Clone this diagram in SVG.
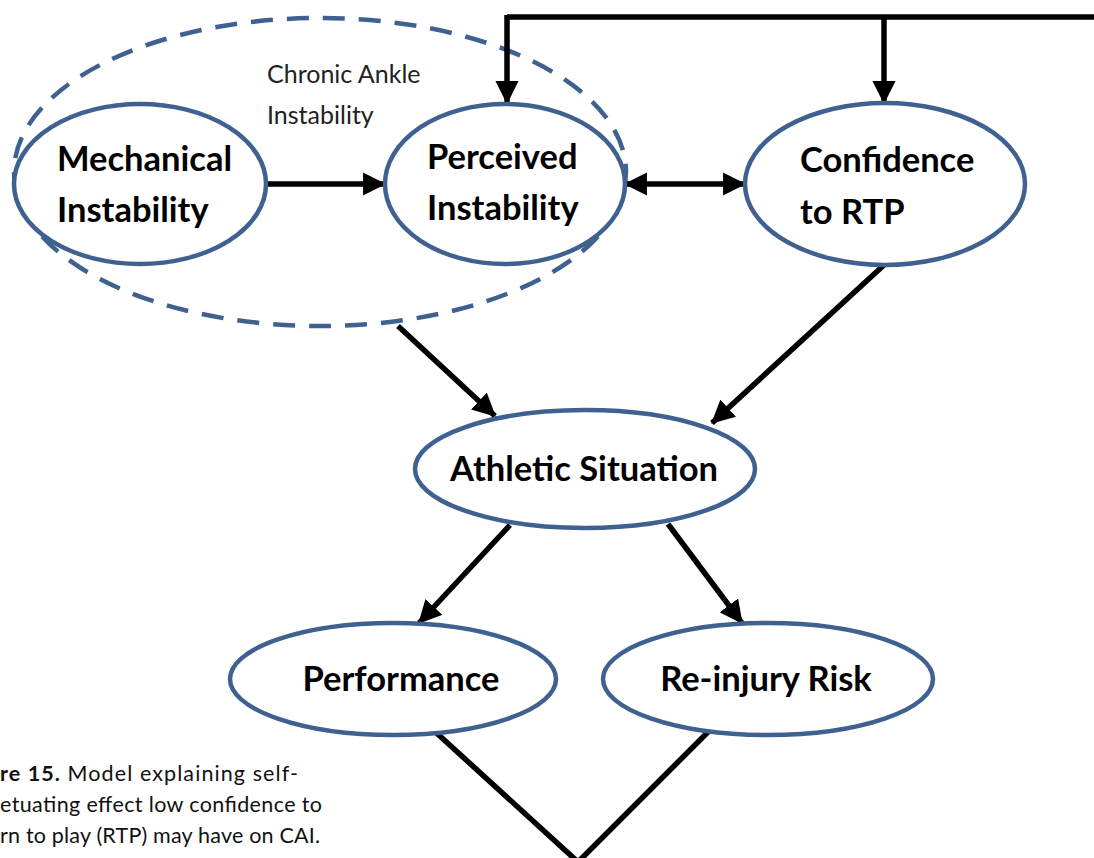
<svg xmlns="http://www.w3.org/2000/svg" width="1094" height="858" viewBox="0 0 1094 858">
  <style>
    .node { fill: #ffffff; stroke: #3f6190; stroke-width: 4.5; }
    .group { fill: none; stroke: #3f6190; stroke-width: 4.5; stroke-dasharray: 22 14; }
    .edge { fill: none; stroke: #000000; stroke-width: 5.5; }
    .label { font-family: Lato, "Open Sans", "Liberation Sans", sans-serif; font-weight: bold; font-size: 34.5px; fill: #000000; }
    .note { font-family: Lato, "Open Sans", "Liberation Sans", sans-serif; font-size: 25px; fill: #222222; }
    .caption { font-family: Lato, "Open Sans", "Liberation Sans", sans-serif; font-size: 21.5px; fill: #111111; }
  </style>
  <defs>
    <marker id="arrow" viewBox="0 0 10 10" refX="9.5" refY="5" markerWidth="4.2" markerHeight="4.2" orient="auto-start-reverse" markerUnits="strokeWidth">
      <path d="M0,0 L10,5 L0,10 z" fill="#000000"/>
    </marker>
  </defs>
  <rect width="1094" height="858" fill="#ffffff"/>

  <!-- grouping outline around the two instability nodes -->
  <g id="cai-group">
    <ellipse class="group" cx="320" cy="172" rx="306" ry="154"/>
    <text class="note" x="267" y="83">Chronic Ankle</text>
    <text class="note" x="267" y="124">Instability</text>
  </g>

  <g id="connectors">
    <path class="edge" d="M507,17 L1094,17"/>
    <path class="edge" d="M507,15 L507,103" marker-end="url(#arrow)"/>
    <path class="edge" d="M884,17 L884,103" marker-end="url(#arrow)"/>
    <path class="edge" d="M265,184 L385,184" marker-end="url(#arrow)"/>
    <path class="edge" d="M625,184 L745,184" marker-start="url(#arrow)" marker-end="url(#arrow)"/>
    <path class="edge" d="M398,326 L495,416" marker-end="url(#arrow)"/>
    <path class="edge" d="M884,265 L712,423" marker-end="url(#arrow)"/>
    <path class="edge" d="M510,525 L419,623" marker-end="url(#arrow)"/>
    <path class="edge" d="M668,524 L742,623" marker-end="url(#arrow)"/>
    <path class="edge" d="M430,727 L578,862 L713,727"/>
  </g>

  <g id="mechanical-instability">
    <ellipse class="node" cx="140" cy="184" rx="126" ry="80"/>
    <text class="label" x="57" y="171">Mechanical</text>
    <text class="label" x="57" y="222">Instability</text>
  </g>

  <g id="perceived-instability">
    <ellipse class="node" cx="505" cy="184" rx="120" ry="80"/>
    <text class="label" x="427" y="169">Perceived</text>
    <text class="label" x="427" y="220">Instability</text>
  </g>

  <g id="confidence-rtp">
    <ellipse class="node" cx="885" cy="184" rx="140" ry="81"/>
    <text class="label" x="800" y="172">Confidence</text>
    <text class="label" x="800" y="224">to RTP</text>
  </g>

  <g id="athletic-situation">
    <ellipse class="node" cx="585" cy="469" rx="170" ry="59"/>
    <text class="label" x="584" y="481" text-anchor="middle">Athletic Situation</text>
  </g>

  <g id="performance">
    <ellipse class="node" cx="393" cy="679" rx="163" ry="56"/>
    <text class="label" x="401" y="691" text-anchor="middle">Performance</text>
  </g>

  <g id="reinjury-risk">
    <ellipse class="node" cx="768" cy="679" rx="165" ry="56"/>
    <text class="label" x="766" y="691" text-anchor="middle">Re-injury Risk</text>
  </g>

  <g id="caption">
    <text class="caption" x="0" y="781" textLength="298" lengthAdjust="spacing"><tspan font-weight="bold">re 15.</tspan> Model explaining self-</text>
    <text class="caption" x="0" y="812" textLength="322" lengthAdjust="spacing">etuating effect low confidence to</text>
    <text class="caption" x="0" y="843" textLength="320" lengthAdjust="spacing">rn to play (RTP) may have on CAI.</text>
  </g>
</svg>
